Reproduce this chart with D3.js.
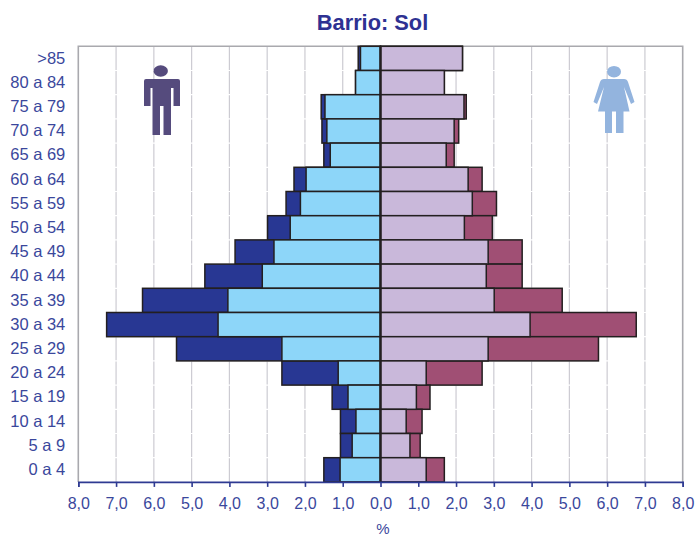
<!DOCTYPE html>
<html>
<head>
<meta charset="utf-8">
<script src="https://d3js.org/d3.v7.min.js"></script>
<style>
  html, body { margin: 0; padding: 0; background: #fff; }
  svg { display: block; }
  text { font-family: "Liberation Sans", Arial, sans-serif; fill: #3a479c; }
</style>
</head>
<body>
<div id="chart"></div>
<script>
var svgWidth = 695;
var svgHeight = 537;

var margin = { top: 46.3, right: 12.3, bottom: 55.1, left: 78.3 };

// age groups, oldest first
var ages = [">85", "80 a 84", "75 a 79", "70 a 74", "65 a 69", "60 a 64", "55 a 59", "50 a 54", "45 a 49",
    "40 a 44", "35 a 39", "30 a 34", "25 a 29", "20 a 24", "15 a 19", "10 a 14", "5 a 9", "0 a 4"];

// men: light bar (inner) and end of dark bar (outer), in %
var menInner = [0.53, 0.66, 1.47, 1.42, 1.33, 1.97, 2.12, 2.39, 2.82, 3.13, 4.04, 4.30, 2.61, 1.12, 0.86, 0.65, 0.75, 1.07];
var menOuter = [0.59, 0.66, 1.57, 1.55, 1.50, 2.29, 2.50, 2.99, 3.85, 4.65, 6.30, 7.25, 5.40, 2.61, 1.28, 1.06, 1.06, 1.50];

// women: same thing
var womenInner = [2.17, 1.69, 2.21, 1.95, 1.74, 2.32, 2.43, 2.22, 2.85, 2.80, 3.01, 3.96, 2.85, 1.21, 0.95, 0.68, 0.78, 1.21];
var womenOuter = [2.17, 1.69, 2.27, 2.07, 1.95, 2.69, 3.07, 2.96, 3.75, 3.75, 4.81, 6.77, 5.77, 2.69, 1.31, 1.10, 1.05, 1.69];

var xTicks = [-8, -7, -6, -5, -4, -3, -2, -1, 0, 1, 2, 3, 4, 5, 6, 7, 8];

var height = svgHeight - margin.top - margin.bottom;
var width = svgWidth - margin.left - margin.right;

var svg = d3.select("#chart")
    .append("svg")
    .attr("height", svgHeight)
    .attr("width", svgWidth);

var chartGroup = svg.append("g")
    .attr("transform", `translate(${margin.left}, ${margin.top})`);

var xScale = d3.scaleLinear().domain([-8, 8]).range([0, width]);
var yScale = d3.scaleBand().domain(ages).range([0, height]);

// grid
chartGroup.selectAll(".grid")
    .data(xTicks.filter(d => Math.abs(d) < 8 && d !== 0))
    .enter()
    .append("line")
    .attr("x1", d => xScale(d))
    .attr("x2", d => xScale(d))
    .attr("y1", 0)
    .attr("y2", height)
    .attr("stroke", "#cccbd2")
    .attr("stroke-width", 1.2);

// the grid is broken where the rows meet
chartGroup.selectAll(".gap")
    .data(ages.slice(1))
    .enter()
    .append("line")
    .attr("x1", 0)
    .attr("x2", width)
    .attr("y1", d => yScale(d))
    .attr("y2", d => yScale(d))
    .attr("stroke", "#fff")
    .attr("stroke-width", 1.2);

// frame
chartGroup.append("path")
    .attr("d", `M0,${height}V0H${width}V${height}`)
    .attr("fill", "none")
    .attr("stroke", "#a9a9ae")
    .attr("stroke-width", 1.6);

// dark bars first, light ones on top
function drawBars(values, sign, color) {
    chartGroup.selectAll(null)
        .data(values)
        .enter()
        .append("rect")
        .attr("x", d => sign < 0 ? xScale(-d) : xScale(0))
        .attr("width", d => Math.abs(xScale(d) - xScale(0)))
        .attr("y", (d, i) => yScale(ages[i]))
        .attr("height", yScale.bandwidth())
        .attr("fill", color)
        .attr("stroke", "#231f20")
        .attr("stroke-width", 1.5);
}

drawBars(menOuter, -1, "#283793");
drawBars(womenOuter, 1, "#a04f74");
drawBars(menInner, -1, "#8dd6f9");
drawBars(womenInner, 1, "#c9b8da");

// zero line
chartGroup.append("line")
    .attr("x1", xScale(0))
    .attr("x2", xScale(0))
    .attr("y1", 0)
    .attr("y2", height)
    .attr("stroke", "#231f20")
    .attr("stroke-width", 2.4);

// axes
var bottomAxis = d3.axisBottom(xScale)
    .tickValues(xTicks)
    .tickSize(5)
    .tickPadding(11)
    .tickFormat(d => d3.format(".1f")(Math.abs(d)).replace(".", ","));

var xAxis = chartGroup.append("g")
    .attr("transform", `translate(0, ${height})`)
    .call(bottomAxis);

xAxis.selectAll("path, line")
    .attr("stroke", "#2e3a92")
    .attr("stroke-width", 1.6);
xAxis.selectAll("text")
    .attr("font-size", "16px");

var leftAxis = d3.axisLeft(yScale)
    .tickSize(0)
    .tickPadding(13);

var yAxis = chartGroup.append("g")
    .call(leftAxis);

yAxis.select(".domain").remove();
yAxis.selectAll("text")
    .attr("font-size", "16.5px");

// titles
svg.append("text")
    .attr("x", 383)
    .attr("y", 533.5)
    .attr("text-anchor", "middle")
    .attr("font-size", "15px")
    .text("%");

svg.append("text")
    .attr("x", 372.5)
    .attr("y", 30)
    .attr("text-anchor", "middle")
    .attr("font-size", "21.8px")
    .attr("font-weight", "bold")
    .style("fill", "#2e3192")
    .text("Barrio: Sol");

// man icon
var man = svg.append("g").attr("fill", "#554b7d");
man.append("ellipse")
    .attr("cx", 160.7).attr("cy", 71).attr("rx", 7.2).attr("ry", 5.8);
man.append("path")
    .attr("d", "M146,79H178Q180,79 180,81V106H173.5V88H171V135H163.5V106H160V135H152.5V88H150.5V106H144V81Q144,79 146,79Z");

// woman icon
var woman = svg.append("g").attr("fill", "#93b4de");
woman.append("ellipse")
    .attr("cx", 614).attr("cy", 71.7).attr("rx", 7).attr("ry", 5.8);
woman.append("path")
    .attr("d", "M604,79H624Q627,79 628,82L634.5,102L631,104L624,87L629.5,111.5H623.5V133H616V111.5H612V133H605V111.5H598L604,87L597,104L593.5,102L600,82Q601,79 604,79Z");
</script>
</body>
</html>
